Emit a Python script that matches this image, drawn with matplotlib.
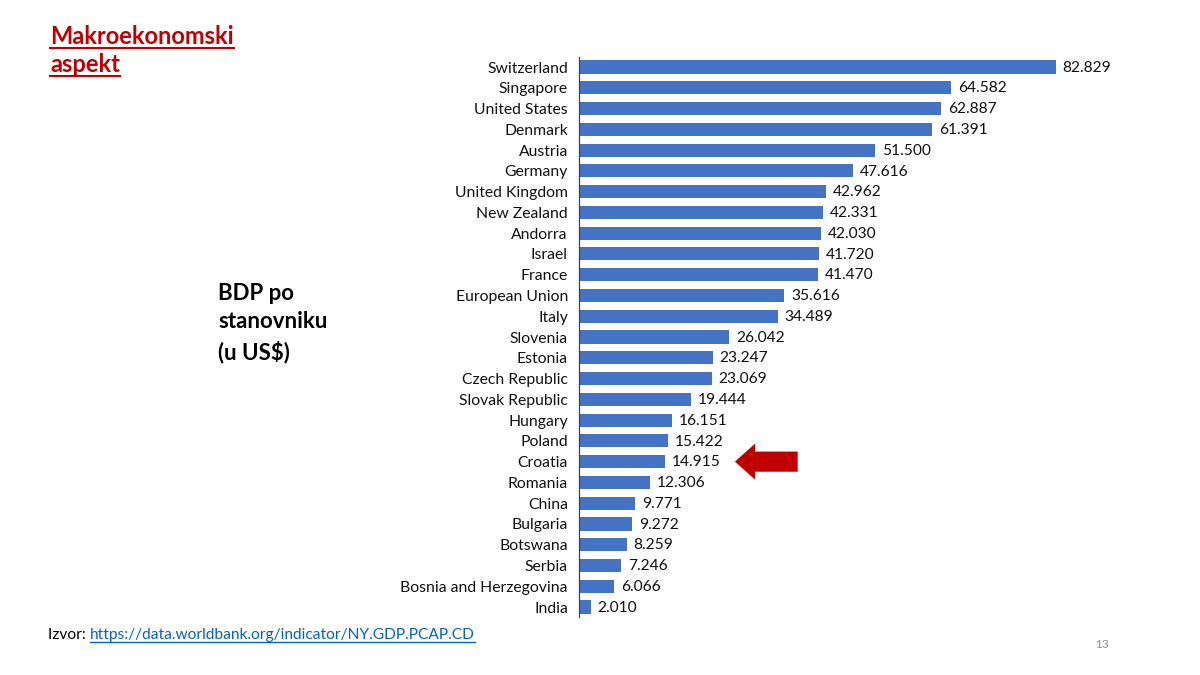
import matplotlib
matplotlib.use('Agg')
import matplotlib.pyplot as plt
from matplotlib.lines import Line2D

plt.rcParams['font.family'] = ['Lato', 'DejaVu Sans']

countries = ['Switzerland', 'Singapore', 'United States', 'Denmark', 'Austria', 'Germany',
             'United Kingdom', 'New Zealand', 'Andorra', 'Israel', 'France', 'European Union',
             'Italy', 'Slovenia', 'Estonia', 'Czech Republic', 'Slovak Republic', 'Hungary',
             'Poland', 'Croatia', 'Romania', 'China', 'Bulgaria', 'Botswana', 'Serbia',
             'Bosnia and Herzegovina', 'India']
gdp = [82829, 64582, 62887, 61391, 51500, 47616, 42962, 42331, 42030, 41720, 41470, 35616,
       34489, 26042, 23247, 23069, 19444, 16151, 15422, 14915, 12306, 9771, 9272, 8259, 7246,
       6066, 2010]
highlight = 'Croatia'

barColor = '#4472C4'
red = '#C00000'
W, H = 1200, 675

fig = plt.figure(figsize=(12, 6.75), dpi=100)
ax = fig.add_axes([579 / W, 0.0853, 518 / W, 0.8308])

ypos = list(range(len(countries)))
ax.barh(ypos, gdp, height=0.63, color=barColor)
ax.set_ylim(len(countries) - 0.5, -0.5)
ax.set_xlim(0, 90000)
ax.set_yticks(ypos)
ax.set_yticklabels(countries, fontsize=11.3, color='#111111')
ax.tick_params(axis='y', length=0, pad=8)
ax.set_xticks([])
for side in ['top', 'right', 'bottom']:
	ax.spines[side].set_visible(False)
ax.spines['left'].set_color('#404040')
ax.spines['left'].set_linewidth(0.9)

for y, v in zip(ypos, gdp):
	ax.annotate(f'{v:,}'.replace(',', '.'), xy=(v, y), xytext=(5, -0.5), textcoords='offset points',
		va='center', ha='left', fontsize=11.2, color='#111111')

# arrow next to Croatia
ci = countries.index(highlight)
ax.annotate('', xy=(27100, ci), xytext=(38000, ci),
	arrowprops=dict(arrowstyle='simple,head_length=1.45,head_width=2.6,tail_width=1.45',
		mutation_scale=10, color=red, shrinkA=0, shrinkB=0, lw=0))

fig.canvas.draw()
renderer = fig.canvas.get_renderer()

def underline(txt, baseline_px, color, lw, gap):
	bb = txt.get_window_extent(renderer)
	yy = 1 - (baseline_px + gap) / H
	fig.add_artist(Line2D([bb.x0 / W, bb.x1 / W], [yy, yy], color=color, lw=lw))

t1 = fig.text(50 / W, 1 - 44 / H, 'Makroekonomski', fontsize=17, fontweight='bold',
	color=red, va='baseline', ha='left')
t2 = fig.text(50 / W, 1 - 72 / H, 'aspekt', fontsize=17, fontweight='bold',
	color=red, va='baseline', ha='left')
fig.canvas.draw()
underline(t1, 44, red, 1.5, 4)
underline(t2, 72, red, 1.5, 4)

fig.text(218 / W, 1 - 323 / H, 'BDP po\nstanovniku\n(u US\\$)', fontsize=16,
	fontweight='bold', color='black', va='center', ha='left', linespacing=1.45)

t3 = fig.text(48 / W, 1 - 639 / H, 'Izvor: ', fontsize=11.2, color='black',
	va='baseline', ha='left')
fig.canvas.draw()
bb = t3.get_window_extent(renderer)
t4 = fig.text(bb.x1 / W, 1 - 639 / H, 'https://data.worldbank.org/indicator/NY.GDP.PCAP.CD',
	fontsize=11.2, color='#0563C1', va='baseline', ha='left')
fig.canvas.draw()
underline(t4, 639, '#0563C1', 1.0, 3)

fig.text(1095 / W, 1 - 645 / H, '13', fontsize=8.5, color='#8C8C8C', va='center', ha='left')

fig.savefig('out.png', dpi=100)
